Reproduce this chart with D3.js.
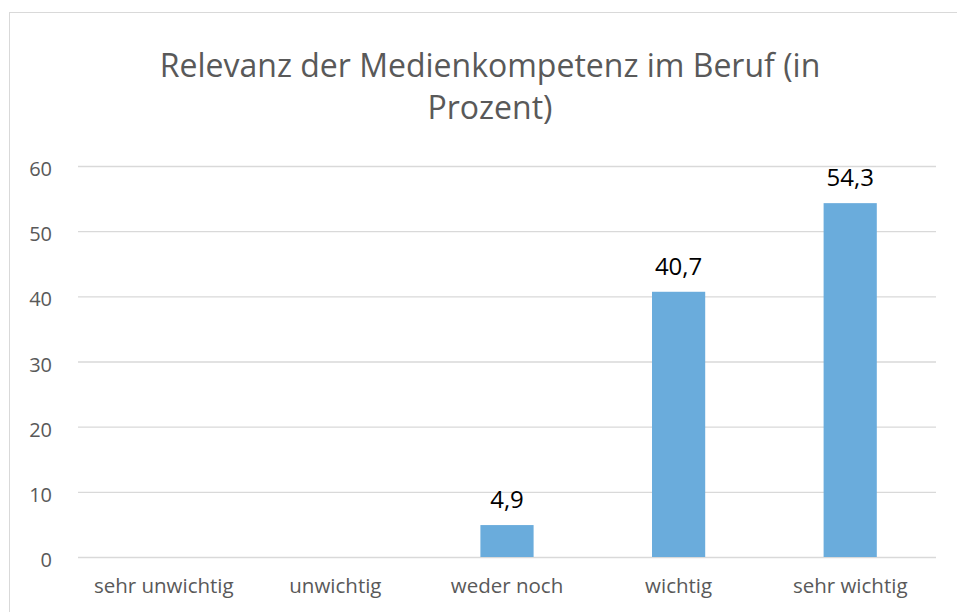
<!DOCTYPE html>
<html>
<head>
<meta charset="utf-8">
<script src="https://cdn.jsdelivr.net/npm/d3@7"></script>
<style>
  body { margin: 0; background: #fff; }
  text { font-family: "Open Sans", sans-serif; }
</style>
</head>
<body>
<div id="chart"></div>
<script>
const data = [
  { label: "sehr unwichtig", value: 0 },
  { label: "unwichtig", value: 0 },
  { label: "weder noch", value: 4.9 },
  { label: "wichtig", value: 40.7 },
  { label: "sehr wichtig", value: 54.3 }
];

const config = {
  containerWidth: 957,
  containerHeight: 612,
  margin: { top: 166, right: 21, bottom: 55, left: 78 },
  color: "#6aacdc",
  textColor: "#595959"
};

const width = config.containerWidth - config.margin.left - config.margin.right;
const height = config.containerHeight - config.margin.top - config.margin.bottom;

const svg = d3.select("#chart")
  .append("svg")
  .attr("width", config.containerWidth)
  .attr("height", config.containerHeight);

// chart frame
svg.append("rect")
  .attr("x", 9.5)
  .attr("y", 12.5)
  .attr("width", 980)
  .attr("height", 700)
  .attr("fill", "none")
  .attr("stroke", "#d9d9d9")
  .attr("stroke-width", 1);

// title (two lines, wrapped like the original)
const title = svg.append("text")
  .attr("text-anchor", "middle")
  .attr("fill", config.textColor)
  .style("font-size", "32px");
title.append("tspan").attr("x", 490).attr("y", 77).text("Relevanz der Medienkompetenz im Beruf (in");
title.append("tspan").attr("x", 490).attr("y", 119).text("Prozent)");

const chart = svg.append("g")
  .attr("transform", `translate(${config.margin.left},${config.margin.top})`);

const x = d3.scaleBand()
  .domain(data.map(d => d.label))
  .range([0, width])
  .paddingInner(0.69)
  .paddingOuter(0.345);

const y = d3.scaleLinear()
  .domain([0, 60])
  .range([height, 0]);

// gridlines + y labels
const yAxis = d3.axisLeft(y)
  .ticks(6)
  .tickSize(-width)
  .tickPadding(26);

chart.append("g")
  .attr("class", "y-axis")
  .call(yAxis)
  .call(g => g.select(".domain").remove())
  .call(g => g.selectAll(".tick line").attr("stroke", "#d9d9d9").attr("stroke-width", 1.3))
  .call(g => g.selectAll(".tick text")
    .attr("fill", config.textColor)
    .attr("dy", "0.48em")
    .style("font-size", "20px")
    .style("font-family", "'Open Sans', sans-serif"));

// x labels
const xAxis = d3.axisBottom(x).tickSize(0);
chart.append("g")
  .attr("transform", `translate(0,${height})`)
  .call(xAxis)
  .call(g => g.select(".domain").remove())
  .call(g => g.selectAll(".tick text")
    .attr("y", 36)
    .attr("dy", 0)
    .attr("fill", config.textColor)
    .style("font-size", "20.5px")
    .style("font-family", "'Open Sans', sans-serif"));

// bars
chart.selectAll(".bar")
  .data(data)
  .join("rect")
  .attr("class", "bar")
  .attr("x", d => x(d.label))
  .attr("y", d => y(d.value))
  .attr("width", x.bandwidth())
  .attr("height", d => height - y(d.value))
  .attr("fill", config.color);

// value labels
const fmt = d3.formatLocale({ decimal: ",", thousands: ".", grouping: [3], currency: ["", " €"] }).format(".1f");
chart.selectAll(".value-label")
  .data(data.filter(d => d.value > 0))
  .join("text")
  .attr("class", "value-label")
  .attr("text-anchor", "middle")
  .attr("x", d => x(d.label) + x.bandwidth() / 2)
  .attr("y", d => y(d.value) - 17)
  .attr("fill", "#000")
  .style("font-size", "24px")
  .text(d => fmt(d.value));
</script>
</body>
</html>
